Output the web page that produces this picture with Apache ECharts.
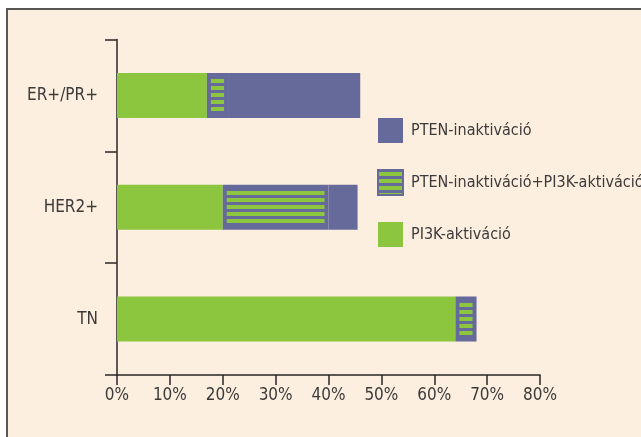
<!DOCTYPE html>
<html>
<head>
<meta charset="utf-8">
<script src="https://cdn.jsdelivr.net/npm/echarts@6/dist/echarts.min.js"></script>
<style>
  html, body { margin: 0; padding: 0; background: #ffffff; }
  #frame { position: absolute; left: 6px; top: 8px; width: 640px; height: 434px;
           border-left: 2px solid #5a5555; border-top: 2px solid #5a5555; background: #fcefdf; }
  #chart { position: absolute; left: 0; top: 0; width: 641px; height: 437px; }
</style>
</head>
<body>
<div id="frame"></div>
<div id="chart"></div>
<script>
// Subtypes, top to bottom
const categories = ['ER+/PR+', 'HER2+', 'TN'];
// Share of tumours (%) in each alteration group
const pi3kOnly = [17, 20, 64];
const both = [4, 20, 4];
const ptenOnly = [25, 5.5, 0];
const xTicks = [0, 10, 20, 30, 40, 50, 60, 70, 80];

const GREEN = '#8cc63f';
const PURPLE = '#666a9b';
const FONT = '"Liberation Sans Narrow", "DejaVu Sans Condensed", sans-serif';
const TEXT = '#3c3a3a';
const AXIS = '#2a2627';

// Horizontal green stripes on purple for the combined group
function stripePattern() {
  const c = document.createElement('canvas');
  c.width = 4; c.height = 7;
  const g = c.getContext('2d');
  g.fillStyle = PURPLE; g.fillRect(0, 0, 4, 7);
  g.fillStyle = GREEN;
  g.fillRect(0, 2, 4, 4);
  return c;
}
const striped = { image: stripePattern(), repeat: 'repeat' };

const chart = echarts.init(document.getElementById('chart'), null, { renderer: 'canvas' });
const barW = 45;
chart.setOption({
  backgroundColor: 'transparent',
  animation: false,
  textStyle: { fontFamily: FONT },
  grid: { left: 117, right: 101, top: 39.5, bottom: 62 },
  legend: {
    orient: 'vertical',
    left: 377, top: 118, padding: 0,
    itemWidth: 25, itemHeight: 25, itemGap: 26,
    icon: 'rect',
    textStyle: { fontFamily: FONT, fontSize: 16, color: TEXT, padding: [0, 0, 0, 3] },
    data: ['PTEN-inaktiváció', 'PTEN-inaktiváció+PI3K-aktiváció', 'PI3K-aktiváció'],
    selectedMode: false
  },
  xAxis: {
    type: 'value', min: xTicks[0], max: xTicks[xTicks.length - 1], interval: 10,
    axisLine: { show: true, lineStyle: { color: AXIS, width: 1.5 } },
    axisTick: { show: true, length: 10, lineStyle: { color: AXIS, width: 1.5 } },
    splitLine: { show: false },
    axisLabel: { formatter: '{value}%', fontFamily: FONT, fontSize: 17, color: TEXT, margin: 12 }
  },
  yAxis: {
    type: 'category', data: categories, inverse: true,
    axisLine: { show: true, lineStyle: { color: AXIS, width: 1.5 } },
    axisTick: { show: true, length: 12, lineStyle: { color: AXIS, width: 1.5 } },
    axisLabel: { fontFamily: FONT, fontSize: 17, color: TEXT, margin: 19 }
  },
  series: [
    {
      name: 'PI3K-aktiváció', type: 'bar', stack: 'total', data: pi3kOnly, barWidth: barW,
      itemStyle: { color: GREEN }
    },
    {
      name: 'PTEN-inaktiváció+PI3K-aktiváció', type: 'bar', stack: 'total', data: both, barWidth: barW,
      itemStyle: { color: striped, borderColor: PURPLE, borderWidth: 4 }
    },
    {
      name: 'PTEN-inaktiváció', type: 'bar', stack: 'total', data: ptenOnly, barWidth: barW,
      itemStyle: { color: PURPLE }
    }
  ]
});
</script>
</body>
</html>
